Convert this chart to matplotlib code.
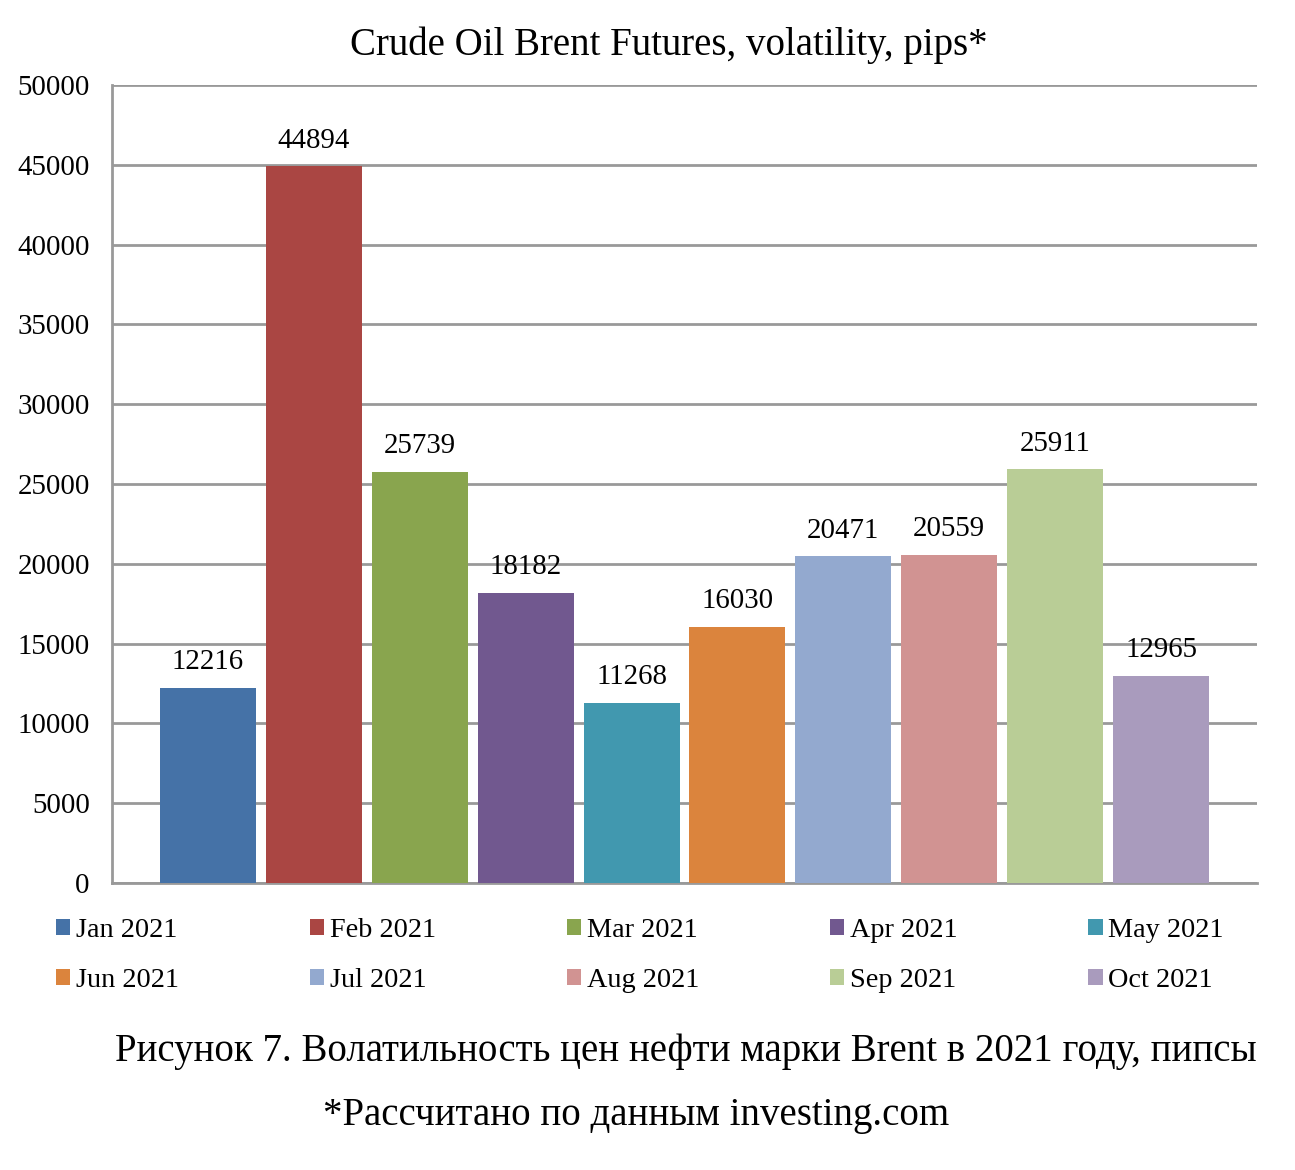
import numpy as np
import matplotlib
matplotlib.use("Agg")
from matplotlib import pyplot as plt

months = ["Jan 2021", "Feb 2021", "Mar 2021", "Apr 2021", "May 2021",
          "Jun 2021", "Jul 2021", "Aug 2021", "Sep 2021", "Oct 2021"]
values = [12216, 44894, 25739, 18182, 11268, 16030, 20471, 20559, 25911, 12965]
colors = ["#4572A7", "#AA4643", "#89A54E", "#71588F", "#4198AF",
          "#DB843D", "#93A9CF", "#D19392", "#B9CD96", "#A99BBD"]
yticks = [0, 5000, 10000, 15000, 20000, 25000, 30000, 35000, 40000, 45000, 50000]

plt.rcParams['font.family'] = ['Liberation Serif', 'DejaVu Serif']

fig = plt.figure(figsize=(12.95, 11.7), dpi=100)
ax = fig.add_axes([112/1295, 1 - 883/1170, (1257-112)/1295, (883-85)/1170])

x = np.arange(len(values))
handles = []
for i in range(len(values)):
    b = ax.bar(x[i], values[i], width=0.906, color=colors[i], label=months[i], zorder=3)
    handles.append(b)
    ax.text(x[i], values[i] + 800, str(values[i]), ha='center', va='bottom',
            fontsize=20.8, zorder=4)

ax.set_xlim(-0.906, 9.906)
ax.set_ylim(0, 50000)
ax.set_yticks(yticks)
ax.set_yticklabels([str(t) for t in yticks], fontsize=20.8)
ax.set_xticks([])
ax.tick_params(axis='y', length=0, pad=16)
ax.grid(axis='y', color='#999999', linewidth=2, zorder=0)
for s in ['top', 'right']:
    ax.spines[s].set_visible(False)
for s in ['left', 'bottom']:
    ax.spines[s].set_color('#999999')
    ax.spines[s].set_linewidth(2)

fig.text(669/1295, 1 - 45/1170, "Crude Oil Brent Futures, volatility, pips*",
         ha='center', va='center', fontsize=28)

# legend: rows Jan..May / Jun..Oct (matplotlib fills column-wise)
order = [0, 5, 1, 6, 2, 7, 3, 8, 4, 9]
fig.legend([handles[i] for i in order], [months[i] for i in order],
           ncol=5, loc='lower left', mode='expand',
           bbox_to_anchor=(45/1295, 1 - 1004/1170, 1190/1295, 96/1170),
           frameon=False, fontsize=20.3, handlelength=0.5, handleheight=0.5,
           handletextpad=0.2, labelspacing=0.88, borderaxespad=0)

fig.text(1257/1295, 1 - 1052/1170,
         "Рисунок 7. Волатильность цен нефти марки Brent в 2021 году, пипсы",
         ha='right', va='center', fontsize=28)
fig.text(636/1295, 1 - 1116/1170, "*Рассчитано по данным investing.com",
         ha='center', va='center', fontsize=28)

fig.savefig("out.png", dpi=100)
